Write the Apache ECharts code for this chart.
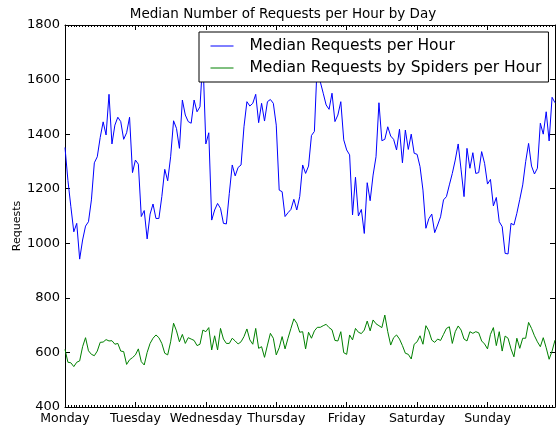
<!DOCTYPE html>
<html>
<head>
<meta charset="utf-8">
<script src="https://cdn.jsdelivr.net/npm/echarts@6/dist/echarts.min.js"></script>
<style>html,body{margin:0;padding:0;background:#fff}#c{width:556px;height:425px}</style>
</head>
<body>
<div id="c"></div>
<script>
var days = ['Monday','Tuesday','Wednesday','Thursday','Friday','Saturday','Sunday'];
var yTicks = [400,600,800,1000,1200,1400,1600,1800];
var seriesNames = ['Median Requests per Hour','Median Requests by Spiders per Hour'];
var yTitle = 'Requests';
var requests = [
1351,1230,1134,1042,1073,942,1012,1063,1079,1159,
1295,1317,1388,1445,1397,1546,1364,1433,1462,1446,
1381,1405,1462,1259,1305,1290,1098,1120,1016,1107,
1144,1091,1091,1171,1271,1229,1317,1449,1421,1348,
1525,1470,1446,1440,1525,1482,1500,1680,1364,1405,
1085,1122,1146,1128,1073,1071,1183,1287,1247,1278,
1287,1427,1519,1503,1513,1546,1442,1513,1448,1519,
1527,1513,1433,1195,1189,1098,1112,1124,1161,1122,
1171,1287,1256,1283,1395,1410,1670,1592,1550,1507,
1491,1550,1446,1470,1519,1379,1342,1324,1104,1242,
1100,1124,1036,1222,1156,1250,1317,1515,1376,1381,
1427,1393,1381,1342,1418,1295,1415,1344,1400,1330,
1326,1281,1195,1055,1090,1107,1039,1067,1097,1159,
1171,1214,1256,1305,1364,1269,1171,1348,1275,1332,
1256,1259,1336,1293,1217,1234,1137,1168,1079,1061,
963,961,1073,1067,1110,1161,1214,1299,1366,1283,
1254,1275,1440,1400,1482,1375,1535,1515];
var spiders = [
611,564,562,548,564,569,621,654,606,593,
588,605,637,638,647,642,643,630,633,605,
603,556,573,581,591,613,566,554,600,633,
652,664,654,633,597,591,639,707,679,639,
666,633,654,649,644,625,630,682,676,691,
609,661,609,688,649,633,633,652,642,631,
639,658,686,646,630,688,615,621,582,627,
670,652,591,617,658,613,652,688,723,707,
674,676,613,674,652,679,692,692,698,703,
691,683,644,642,676,599,593,664,646,688,
674,669,682,715,679,719,705,698,691,737,
676,627,654,664,649,625,597,593,576,630,
639,661,630,698,679,645,637,649,644,666,
688,694,633,676,697,682,649,642,676,670,
676,672,642,631,613,666,691,625,676,605,
660,652,613,584,652,615,652,652,710,688,
661,639,621,654,617,575,605,645];

function pairs(arr){ return arr.map(function(v,i){ return [i,v]; }); }
var F = 'DejaVu Sans';
var hoursMax = requests.length - 1;
var xBase = {
  type:'value', min:0, max:hoursMax, interval:24,
  axisLine:{show:true,onZero:false,lineStyle:{color:'#000',width:1}},
  axisTick:{show:true,inside:true,length:5,lineStyle:{color:'#000'}},
  minorTick:{show:true,splitNumber:24,length:2,lineStyle:{color:'#000'}},
  splitLine:{show:false}
};
var yBase = {
  type:'value', min:yTicks[0], max:yTicks[yTicks.length-1], interval:yTicks[1]-yTicks[0],
  axisLine:{show:true,onZero:false,lineStyle:{color:'#000',width:1}},
  axisTick:{show:true,inside:true,length:5,lineStyle:{color:'#000'}},
  splitLine:{show:false}
};
var chart = echarts.init(document.getElementById('c'), null, {renderer:'canvas'});
chart.setOption({
  animation:false,
  backgroundColor:'#fff',
  title:{text:'Median Number of Requests per Hour by Day', left:278, top:2, textAlign:'center',
    textStyle:{fontFamily:F,fontSize:13.5,fontWeight:'normal',color:'#000'}},
  grid:{left:65,right:1,top:25,bottom:18,containLabel:false,outerBoundsMode:'none'},
  graphic:[{
    type:'text', x:17, y:226, rotation:Math.PI/2,
    style:{text:yTitle, align:'center', verticalAlign:'middle', fill:'#000',
      font:'11px "DejaVu Sans"'}
  }],
  legend:{
    orient:'vertical', left:199, top:32,
    padding:[5,7,5,11], itemGap:4,
    itemWidth:23, itemHeight:2,
    backgroundColor:'#fff', borderColor:'#000', borderWidth:1, borderRadius:0,
    lineStyle:{width:1},
    itemStyle:{opacity:0, borderWidth:0},
    textStyle:{fontFamily:F,fontSize:15.5,color:'#000',lineHeight:18,padding:[0,0,0,11]},
    data:seriesNames
  },
  xAxis:[
    Object.assign({}, xBase, {position:'bottom',
      axisLabel:{show:true,margin:5,color:'#000',fontFamily:F,fontSize:12.5,
        formatter:function(v){ return v%24===0 ? (days[v/24]||'') : ''; }}}),
    Object.assign({}, xBase, {position:'top', axisLabel:{show:false}})
  ],
  yAxis:[
    Object.assign({}, yBase, {position:'left',
      axisLabel:{show:true,margin:5,color:'#000',fontFamily:F,fontSize:13,
        formatter:function(v){ return String(v); }}}),
    Object.assign({}, yBase, {position:'right', axisLabel:{show:false}})
  ],
  series:[
    {name:seriesNames[0], type:'line', data:pairs(requests), symbol:'none', showSymbol:false,
      lineStyle:{color:'#0000ff',width:1}, itemStyle:{color:'#0000ff'}, z:3},
    {name:seriesNames[1], type:'line', data:pairs(spiders), symbol:'none', showSymbol:false,
      lineStyle:{color:'#008000',width:1}, itemStyle:{color:'#008000'}, z:3}
  ]
});
</script>
</body>
</html>
